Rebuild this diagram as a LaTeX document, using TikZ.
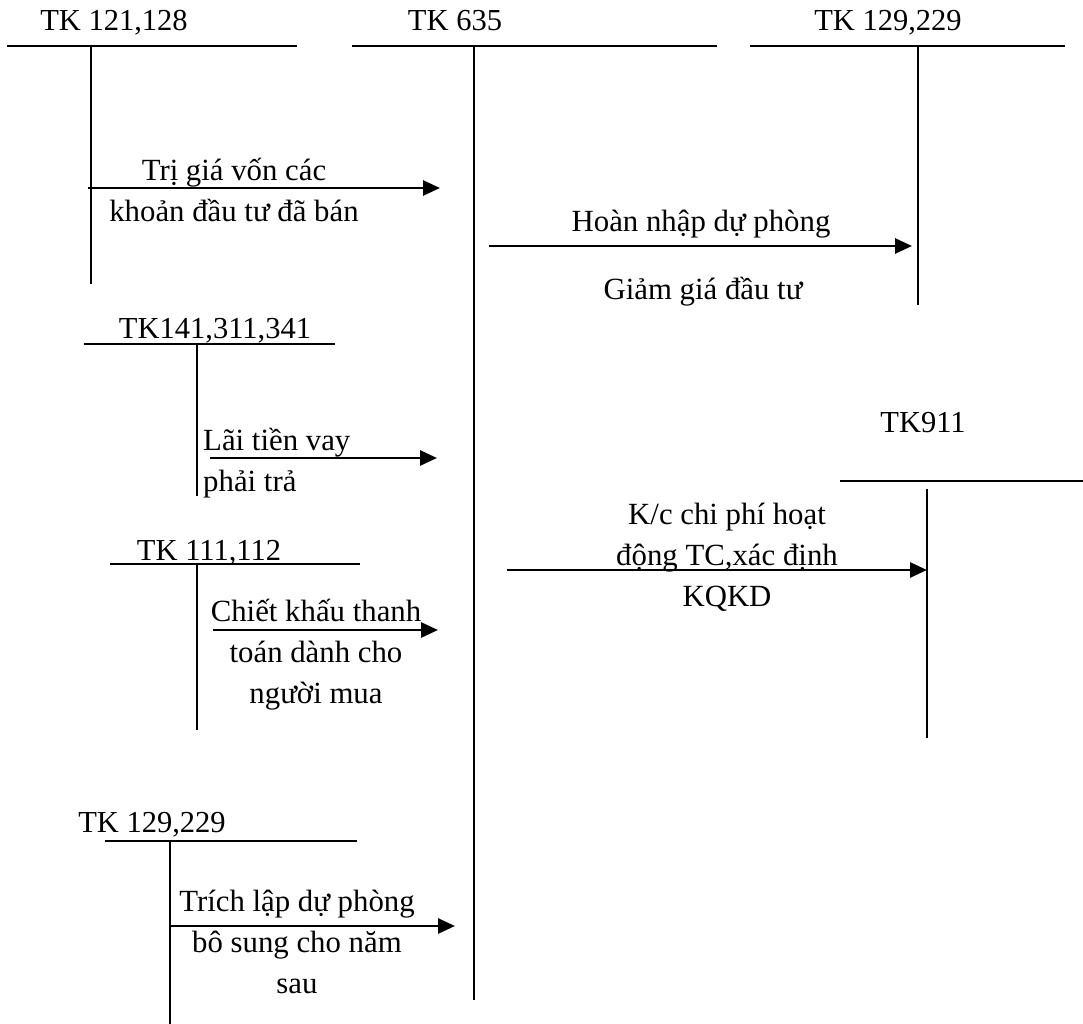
\documentclass[tikz,border=0pt]{standalone}
\usepackage{fontspec}
\setmainfont{Liberation Serif}
\usetikzlibrary{arrows.meta}
\definecolor{ledgerInk}{HTML}{000000}
\newcommand{\tkfont}{\fontsize{30.5}{36}\selectfont}
\newcommand{\notefont}{\fontsize{30.8}{41}\selectfont}
\tikzset{
  every picture/.style={font=\notefont, text=ledgerInk},
  tk label/.style={font=\tkfont, inner sep=0pt, anchor=base},
  tk note/.style={font=\notefont, align=center, inner sep=0pt},
  tk rule/.style={draw=ledgerInk, line width=2pt},
  tk flow/.style={-{Triangle[length=17pt,width=15pt]},
    draw=ledgerInk, line width=2.8pt, line cap=butt}
}

\begin{document}
\begin{tikzpicture}[x=1pt,y=-1pt]
  \useasboundingbox (0,0) rectangle (1083,1024);
  % accounts
  \node[tk label] (tk121) at (114,31) {TK 121,128};
  \draw[tk rule] (7,46) -- (297,46) (91,46) -- (91,284);
  \node[tk label] (tk635) at (455,31) {TK 635};
  \draw[tk rule] (352,46) -- (717,46) (474,46) -- (474,1000);
  \node[tk label] (tk129top) at (888,31) {TK 129,229};
  \draw[tk rule] (750,46) -- (1065,46) (918,46) -- (918,305);
  \node[tk label] (tk141) at (215,338) {TK141,311,341};
  \draw[tk rule] (84,344) -- (335,344) (197,344) -- (197,496);
  \node[tk label] (tk111) at (209,560) {TK 111,112};
  \draw[tk rule] (110,564) -- (360,564) (197,564) -- (197,730);
  \node[tk label] (tk911) at (923,432) {TK911};
  \draw[tk rule] (840,481) -- (1083,481) (927,489) -- (927,738);
  \node[tk label] (tk129bot) at (152,832) {TK 129,229};
  \draw[tk rule] (105,841) -- (357,841) (170,841) -- (170,1024);
  % flows
  \coordinate (sold) at (88,188);
  \coordinate (soldEnd) at (440,188);
  \draw[tk flow] (sold) -- (soldEnd);
  \node[tk note] (soldText) at (234,190) {Trị giá vốn các\\khoản đầu tư đã bán};
  \coordinate (refund) at (489,246);
  \coordinate (refundEnd) at (912,246);
  \draw[tk flow] (refund) -- (refundEnd);
  \node[tk note] (refundText) at (701,224) {Hoàn nhập dự phòng};
  \node[tk note] (refundText2) at (703,292) {Giảm giá đầu tư};
  \coordinate (loan) at (210,458);
  \coordinate (loanEnd) at (437,458);
  \draw[tk flow] (loan) -- (loanEnd);
  \node[tk note, align=left, anchor=west] (loanText) at (203,463) {Lãi tiền vay\\phải trả};
  \coordinate (disc) at (213,630);
  \coordinate (discEnd) at (438,630);
  \draw[tk flow] (disc) -- (discEnd);
  \node[tk note] (discText) at (316,655) {Chiết khấu thanh\\toán dành cho\\người mua};
  \coordinate (close) at (507,570);
  \coordinate (closeEnd) at (927,570);
  \draw[tk flow] (close) -- (closeEnd);
  \node[tk note] (closeText) at (727,557) {K/c chi phí hoạt\\động TC,xác định\\KQKD};
  \coordinate (prov) at (170,926);
  \coordinate (provEnd) at (455,926);
  \draw[tk flow] (prov) -- (provEnd);
  \node[tk note] (provText) at (297,942) {Trích lập dự phòng\\bô sung cho năm\\sau};
\end{tikzpicture}
\end{document}
